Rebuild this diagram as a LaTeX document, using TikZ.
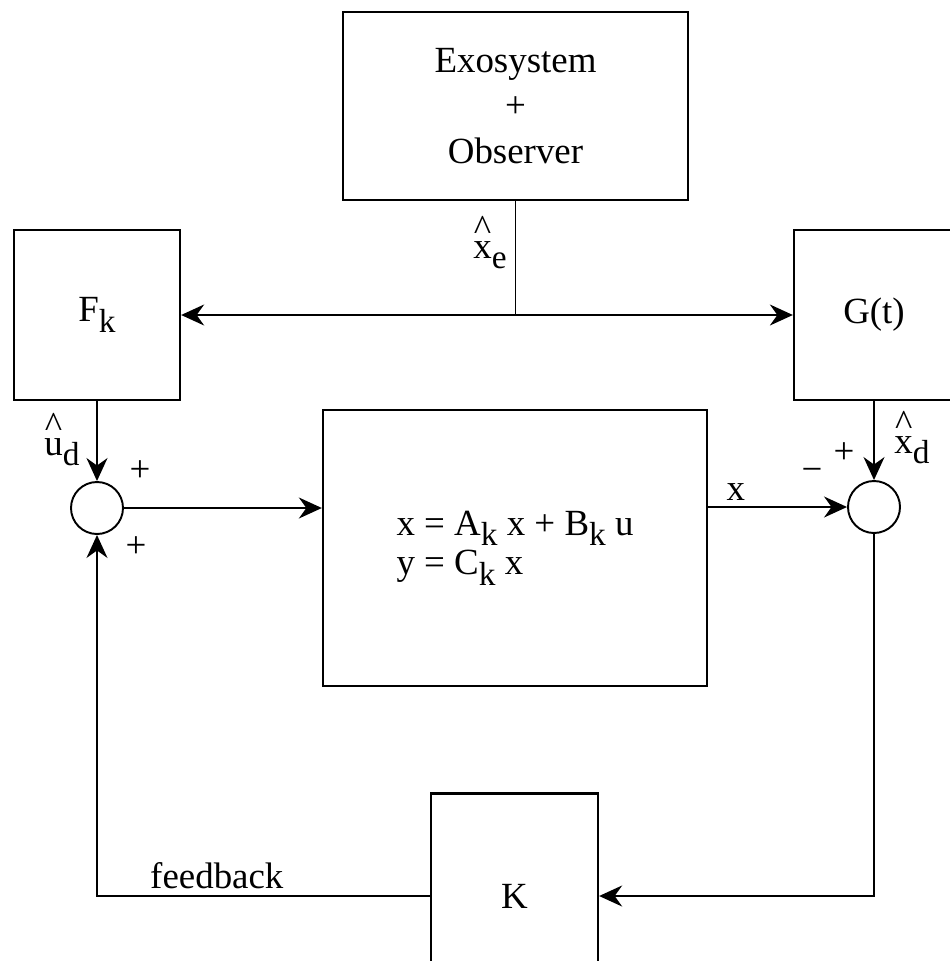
\documentclass[tikz,border=0pt]{standalone}
\usepackage{fontspec}
\setmainfont{Liberation Serif}
\usetikzlibrary{arrows.meta, positioning, calc}
\newcommand{\lowsub}[1]{\raisebox{-0.28em}{\fontsize{19}{19}\selectfont #1}}
\newcommand{\hatted}[1]{\shortstack{\textasciicircum\\[-0.12em]#1}}

\begin{document}
\begin{tikzpicture}[
  font=\fontsize{21}{26}\selectfont,
  block/.style={
    draw, line width=1.3pt,
    align=center, inner sep=0pt},
  sumnode/.style={
    draw, circle, line width=1.1pt,
    minimum size=1.04cm, inner sep=0pt},
  arrow/.style={
    -{Stealth[length=4.6mm, width=4.2mm, inset=1.5mm]},
    line width=1pt},
  plain/.style={line width=1pt},
  sign/.style={inner sep=0pt}
]
\useasboundingbox (0,0) rectangle (18.98,-19.22);

\node[block, minimum width=6.9cm, minimum height=3.76cm]
  (exo) at (10.31,-2.12) {Exosystem\\+\\Observer};
\node[block, minimum width=3.32cm, minimum height=3.4cm]
  (Fk) at (1.94,-6.30) {F\lowsub{k}};
\node[block, minimum width=3.2cm, minimum height=3.4cm]
  (G) at (17.48,-6.30) {G(t)};
\node[block, minimum width=7.68cm, minimum height=5.52cm,
  align=left, font=\fontsize{21}{22.5}\selectfont]
  (plant) at (10.30,-10.96)
  {x = A\lowsub{k} x + B\lowsub{k} u\\y = C\lowsub{k} x};
\node[block, minimum width=3.34cm, minimum height=4.1cm]
  (K) at (10.29,-17.92) {K};

\node[sumnode] (sumL) at (1.94,-10.16) {};
\node[sumnode] (sumR) at (17.48,-10.14) {};

\coordinate (split) at (exo.south |- Fk.east);
\draw[plain] (exo.south) -- (split);
\draw[arrow] (split) -- (Fk.east);
\draw[arrow] (split) -- (G.west);
\draw[arrow] (Fk.south) -- (sumL.north);
\draw[arrow] (G.south) -- (sumR.north);
\draw[arrow] (sumL.east) -- (sumL.east -| plant.west);
\draw[arrow] (plant.east |- sumR.west) --
  node[above, pos=0.2] {x} (sumR.west);
\draw[arrow] (sumR.south) |- (K.east);
\draw[arrow] (K.west) -| node[above, pos=0.32]
  {feedback} (sumL.south);

\node[sign] (xe) at (9.8,-4.85) {\hatted{x}\lowsub{e}};
\node[sign] (ud) at (1.24,-8.80) {\hatted{u}\lowsub{d}};
\node[sign] (xd) at (18.24,-8.76) {\hatted{x}\lowsub{d}};
\node[sign] (plusLa) at (2.80,-9.42) {+};
\node[sign] (plusLb) at (2.72,-10.94) {+};
\node[sign] (plusR) at (16.88,-9.06) {+};
\node[sign] (minusR) at (16.24,-9.50) {−};
\end{tikzpicture}
\end{document}
